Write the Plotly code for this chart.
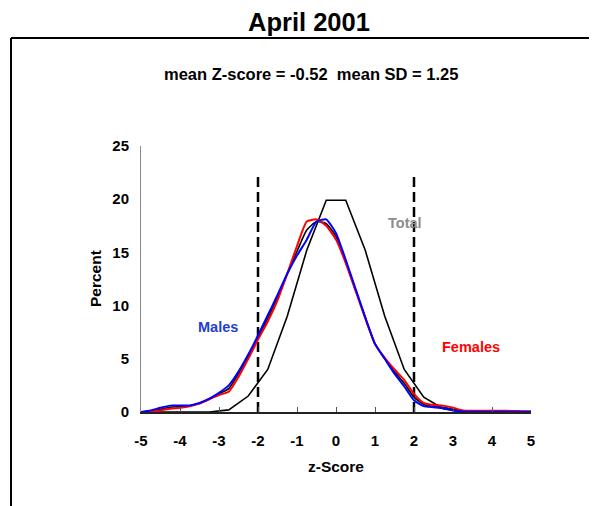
import plotly.graph_objects as go

# ---- data ----
z_obs = [-5 + 0.25 * i for i in range(41)]
males = [0, 0.15, 0.4, 0.6, 0.6, 0.62, 0.85, 1.25, 1.8, 2.5, 3.8, 5.4, 7.2, 9.1, 11.0, 13.0,
         14.7, 16.2, 17.9, 18.1, 16.8, 14.3, 11.6, 8.9, 6.4, 5.0, 3.6, 2.4, 1.1, 0.55, 0.45,
         0.35, 0.15, 0.05, 0.03, 0.02, 0.02, 0.02, 0.02, 0.02, 0.02]
females = [0, 0.05, 0.15, 0.3, 0.4, 0.55, 0.8, 1.2, 1.6, 1.9, 3.3, 5.0, 6.8, 8.5, 10.5, 13.0,
           15.6, 17.9, 18.1, 17.5, 16.2, 14.0, 11.4, 8.8, 6.4, 5.1, 4.0, 3.0, 1.7, 0.85, 0.65,
           0.6, 0.4, 0.15, 0.12, 0.12, 0.12, 0.12, 0.1, 0.08, 0.05]
total = [0, 0.08, 0.25, 0.45, 0.5, 0.58, 0.82, 1.2, 1.7, 2.2, 3.6, 5.2, 7.0, 8.8, 10.8, 13.0,
         15.1, 17.1, 17.9, 17.7, 16.5, 14.1, 11.5, 8.9, 6.4, 5.0, 3.8, 2.7, 1.4, 0.7, 0.5,
         0.45, 0.25, 0.1, 0.06, 0.05, 0.05, 0.05, 0.05, 0.05, 0.05]
z_std = [-5, -3.25, -2.75, -2.25, -1.75, -1.25, -0.75, -0.25, 0.25, 0.75, 1.25, 1.75, 2.25, 2.75, 3.25, 5]
standard = [0, 0, 0.2, 1.5, 4.0, 9.0, 15.2, 19.9, 19.9, 15.2, 9.0, 4.0, 1.4, 0.3, 0, 0]
cutoffs = [-2, 2]
cutoff_top = 22.5
x_ticks = [-5, -4, -3, -2, -1, 0, 1, 2, 3, 4, 5]
y_ticks = [0, 5, 10, 15, 20, 25]

FONT = "Arial, Liberation Sans, sans-serif"

fig = go.Figure()
for c in cutoffs:
    fig.add_trace(go.Scatter(x=[c, c], y=[0, cutoff_top], mode="lines",
                             line=dict(color="black", width=2.5, dash="10px,5px"),
                             hoverinfo="skip", showlegend=False))
fig.add_trace(go.Scatter(x=z_std, y=standard, mode="lines",
                         line=dict(color="black", width=1.6), showlegend=False))
fig.add_trace(go.Scatter(x=z_obs, y=total, mode="lines",
                         line=dict(color="black", width=1.6, shape="spline", smoothing=0.5),
                         showlegend=False))
fig.add_trace(go.Scatter(x=z_obs, y=females, mode="lines",
                         line=dict(color="#ff0000", width=2, shape="spline", smoothing=0.5),
                         showlegend=False))
fig.add_trace(go.Scatter(x=z_obs, y=males, mode="lines",
                         line=dict(color="#0000ff", width=2, shape="spline", smoothing=0.5),
                         showlegend=False))

# page has an 8px body margin; work in page pixel coordinates
OFF = 8
W, H = 597 - OFF, 506 - OFF
L, T = 141 - OFF, 146 - OFF
pw, ph = 390, 266
R, B = W - L - pw, H - T - ph

def px(xp):
    return (xp - OFF - L) / pw

def py(yp):
    return (T + ph - (yp - OFF)) / ph

def ann(text, xp, yp, size, color="black"):
    return dict(text=text, x=px(xp), y=py(yp), xref="paper", yref="paper",
                showarrow=False, xanchor="center", yanchor="middle",
                font=dict(family=FONT, size=size, color=color, weight="bold"))

annotations = [
    ann("April 2001", 309, 22, 25.5),
    ann("mean Z-score = -0.52  mean SD = 1.25", 311, 74, 16.5),
    ann("Males", 218, 327, 14.5, "#1f3fcf"),
    ann("Females", 471, 347, 14.5, "#ff0000"),
    ann("Total", 405, 223, 14.5, "#8c8c8c"),
    ann("z-Score", 336, 466, 15.5),
]
annotations.append(dict(text="Percent", x=px(95), y=py(279), xref="paper", yref="paper",
                        showarrow=False, textangle=-90, xanchor="center", yanchor="middle",
                        font=dict(family=FONT, size=15.5, color="black", weight="bold")))

frame_line = dict(color="black", width=2)
fig.update_layout(
    width=W, height=H,
    margin=dict(l=L, r=R, t=T, b=B, pad=0),
    paper_bgcolor="white", plot_bgcolor="white",
    font=dict(family=FONT, size=15, color="black", weight="bold"),
    annotations=annotations,
    shapes=[
        dict(type="line", xref="paper", yref="paper", x0=px(11), x1=px(620),
             y0=py(38), y1=py(38), line=frame_line, layer="below"),
        dict(type="line", xref="paper", yref="paper", x0=px(11), x1=px(11),
             y0=py(38), y1=py(540), line=frame_line, layer="below"),
    ],
    xaxis=dict(range=[-5, 5], tickvals=x_ticks, ticktext=[str(v) for v in x_ticks],
               showgrid=False, zeroline=False, showline=True, linecolor="#222222",
               linewidth=1.5, ticks="inside", ticklen=5, tickcolor="#555555", tickwidth=1,
               ticklabelstandoff=14, tickfont=dict(family=FONT, size=15, weight="bold")),
    yaxis=dict(range=[0, 25], tickvals=y_ticks, ticktext=[str(v) for v in y_ticks],
               showgrid=False, zeroline=False, showline=True, linecolor="#888888",
               linewidth=1, ticks="", ticklabelstandoff=8,
               tickfont=dict(family=FONT, size=15, weight="bold")),
)

fig.write_html("out.html")
